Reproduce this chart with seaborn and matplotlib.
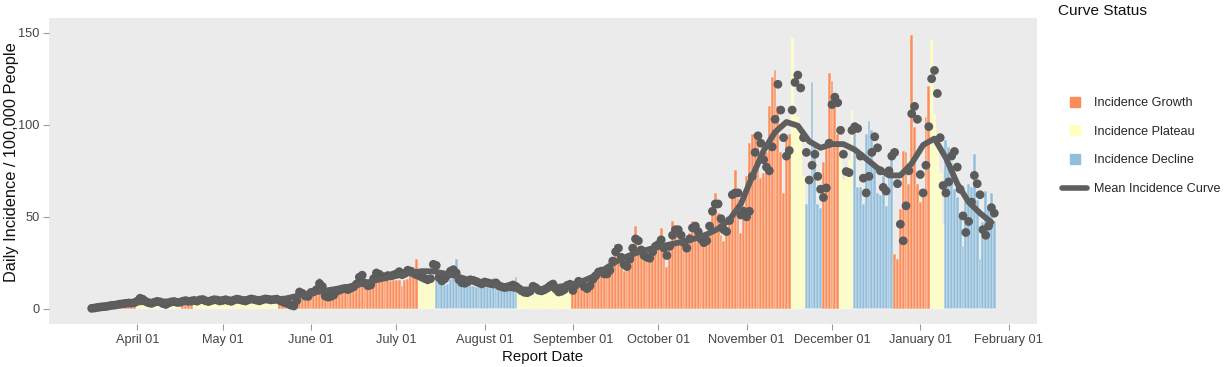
import numpy as np
import pandas as pd
import matplotlib
matplotlib.use("Agg")
import matplotlib.pyplot as plt
import matplotlib.dates as mdates
from matplotlib.lines import Line2D
import seaborn as sns

# ---------------- data ----------------
start_date = "2020-03-16"

inc_mar = [0.1, 0.2, 0.4, 0.4, 0.6, 0.5, 0.8, 0.9, 0.8, 1.1, 1.3, 1.2, 1.6, 1.7, 1.5, 2.0]
inc_apr = [2.3, 2.6, 3.1, 2.8, 2.4, 2.2, 2.6, 2.9, 2.7, 2.3, 2.1, 2.5, 2.8, 2.9, 2.6, 2.7,
           3.1, 3.4, 3.6, 3.3, 3.8, 4.1, 4.3, 4.0, 3.7, 3.9, 4.2, 4.4, 4.1, 3.9]
inc_may = [4.4, 4.6, 4.2, 3.9, 4.3, 4.6, 4.8, 4.5, 4.1, 4.0, 4.4, 4.7, 4.9, 4.6, 4.3, 4.2,
           4.6, 4.8, 5.0, 4.7, 4.8, 5.0, 5.2, 4.9, 4.6, 5.3, 5.8, 6.9, 7.4, 7.8, 7.6]
inc_jun = [7.0, 7.4, 7.8, 16.8, 8.5, 7.2, 6.9, 7.6, 8.8, 9.3, 9.8, 10.1, 10.6, 11.0, 11.3,
           11.7, 11.9, 12.4, 19.5, 12.6, 12.9, 13.4, 14.6, 15.0, 15.3, 15.4, 15.2, 15.5, 15.3, 15.6]
inc_jul = [15.5, 15.8, 12.6, 15.9, 16.2, 18.5, 22.8, 27.0, 17.8, 16.5, 15.9, 16.8, 15.4, 16.0,
           17.5, 17.2, 13.5, 13.0, 13.4, 16.0, 17.0, 27.0, 14.2, 15.0, 14.0, 12.5, 12.3, 12.4,
           12.1, 12.8, 11.9]
inc_aug = [11.8, 12.0, 11.6, 17.0, 11.2, 11.0, 10.8, 11.3, 10.9, 10.5, 10.2, 17.2, 9.6, 9.8,
           10.0, 9.4, 9.1, 9.5, 9.8, 10.2, 9.9, 10.0, 10.3, 9.7, 9.9, 10.4, 10.6, 10.2, 10.0, 9.8, 9.6]
inc_sep = [13, 14, 12, 11, 12.5, 13, 12, 18, 20, 21, 19, 18.5, 20, 21, 27, 35, 28, 22, 20.5,
           21, 30, 32, 45, 34, 29, 27, 26, 28, 31, 33]
inc_oct = [34, 44, 30, 23, 32, 47.5, 40, 38, 36, 33, 34, 41, 48, 43, 38, 35, 37, 40, 45, 55,
           63, 52, 40, 37, 42, 50, 63, 75.5, 60, 41, 56]
inc_nov = [72, 90, 95, 93, 90, 71, 74, 85, 110, 126, 130, 110, 85, 63, 92, 95,
           147, 108, 104, 97, 72, 57, 70, 123, 88, 57, 55, 80, 88, 128]
inc_dec = [124, 117, 95, 82, 70, 77, 81, 108, 101, 66, 66, 57, 95, 102, 97, 77, 63, 62, 72,
           56, 74, 87, 30, 27, 54, 86, 85, 68, 149, 99, 68]
inc_jan = [58, 65, 104, 121, 146, 106, 88, 74, 46, 92, 88, 79, 65, 61, 52, 34, 59, 68, 66,
           84, 59, 27, 47, 64, 56, 63, 48]

dot_mar = [0.3, 0.5, 0.8, 1.0, 1.2, 1.3, 1.6, 1.9, 2.0, 2.3, 2.6, 2.8, 3.0, 3.2, 3.1, 3.4]
dot_apr = [4.2, 5.8, 5.2, 4.0, 3.3, 3.0, 3.6, 4.1, 3.8, 2.9, 2.4, 3.2, 3.8, 4.0, 3.5, 3.6,
           4.2, 4.5, 4.1, 4.3, 4.6, 4.2, 4.9, 5.1, 4.4, 4.0, 4.5, 5.0, 4.8, 4.3]
dot_may = [4.6, 5.0, 4.5, 4.1, 4.8, 5.3, 5.0, 4.6, 4.3, 4.9, 5.4, 5.1, 4.7, 4.4, 5.0, 5.4,
           5.2, 4.9, 5.1, 5.3, 4.6, 3.9, 3.3, 2.8, 2.0, 1.6, 4.5, 9.2, 8.4, 7.0, 6.8]
dot_jun = [8.9, 9.3, 10.5, 13.8, 12.2, 7.0, 6.4, 6.8, 7.5, 9.6, 10.2, 10.8, 11.1, 10.5, 11.3,
           12.0, 13.5, 17.2, 18.3, 14.0, 12.6, 13.0, 16.4, 19.5, 18.8, 17.6, 17.4, 18.1, 17.9, 18.4]
dot_jul = [19.0, 20.2, 18.6, 19.3, 21.0, 20.5, 19.4, 18.6, 18.0, 17.2, 16.5, 15.8, 16.4, 24.2,
           23.6, 17.0, 15.2, 16.4, 18.4, 20.5, 21.3, 19.6, 15.8, 14.2, 13.9, 14.6, 15.8, 15.5,
           14.9, 14.2, 13.6]
dot_aug = [14.6, 14.2, 13.8, 13.5, 14.1, 12.6, 12.0, 11.6, 11.9, 12.4, 13.0, 12.2, 11.0, 9.8,
           9.0, 8.8, 9.6, 12.3, 11.5, 10.1, 9.8, 10.4, 11.3, 12.6, 13.5, 10.8, 9.2, 9.6, 10.5,
           12.8, 13.4]
dot_sep = [10, 13, 15, 14, 12, 11, 12.5, 16, 18, 20, 20.5, 19, 19, 21, 26, 31, 33, 28, 24, 23,
           27, 33, 38, 37, 32, 29, 28, 27.5, 31, 34]
dot_oct = [35, 37.5, 33, 29, 34, 40, 43, 43, 40, 36, 33, 38, 44, 45, 42, 38, 36, 37, 45, 53,
           57, 57, 49, 43, 42, 48, 62, 63, 63, 51, 53]
dot_nov = [50, 53, 72, 85, 94, 90, 81, 77, 75, 88, 103, 122, 108, 93, 83, 86, 108, 123, 127,
           120, 93, 85, 70, 78, 84, 72, 65, 60.5, 65.7, 90]
dot_dec = [111, 115, 112, 97, 84, 74.6, 74, 97, 99, 98, 83, 71, 63, 72, 85, 93.5, 87.5, 75,
           66, 64, 75, 83, 85, 68, 46, 37, 56, 75, 106, 110, 103]
dot_jan = [73, 63, 78, 99, 125, 129.5, 117, 93, 67, 63, 69, 83, 85.5, 77, 65, 50.5, 41.5,
           47.5, 58, 72.5, 68, 62, 43, 40, 45, 55, 52]

# curve status segments (start date of each run)
seg_starts = ["2020-03-16", "2020-04-01", "2020-04-17", "2020-04-21", "2020-05-21",
              "2020-07-09", "2020-07-15", "2020-08-13", "2020-09-01", "2020-11-17",
              "2020-11-22", "2020-11-28", "2020-12-04", "2020-12-09", "2020-12-23",
              "2021-01-05", "2021-01-10"]
seg_status = ["Incidence Growth", "Incidence Plateau", "Incidence Growth", "Incidence Plateau",
              "Incidence Growth", "Incidence Plateau", "Incidence Decline", "Incidence Plateau",
              "Incidence Growth", "Incidence Plateau", "Incidence Decline", "Incidence Growth",
              "Incidence Plateau", "Incidence Decline", "Incidence Growth", "Incidence Plateau",
              "Incidence Decline"]

# mean incidence curve, read every 4 days from 2020-03-16
curve_vals = [0.3, 1.0, 1.8, 2.8, 3.5, 3.9, 4.0, 4.1, 4.3, 4.5, 4.7, 4.9, 5.0, 5.2, 5.3, 5.3,
              5.2, 5.6, 7.0, 8.3, 9.4, 10.4, 11.4, 12.6, 14.0, 15.6, 17.0, 18.3, 19.6, 20.5,
              20.4, 19.2, 17.8, 16.0, 14.7, 13.5, 12.3, 11.0, 10.5, 10.6, 11.2, 12.0, 13.0,
              14.8, 17.5, 21.5, 25.5, 28.5, 30.8, 32.5, 34.0, 35.3, 36.6, 38.3, 40.5, 43.5,
              48.5, 57.0, 72.0, 86.0, 96.0, 101.5, 99.5, 91.0, 87.5, 89.5, 89.5, 86.5, 81.5,
              76.5, 72.5, 72.5, 79.0, 89.0, 92.5, 82.0, 68.0, 58.0, 52.0, 47.0]

status_order = ["Incidence Growth", "Incidence Plateau", "Incidence Decline"]
palette = {"Incidence Growth": "#FC8D59", "Incidence Plateau": "#FFFFBF",
           "Incidence Decline": "#91BFDB"}

# ---------------- build tables ----------------
inc = (inc_mar + inc_apr + inc_may + inc_jun + inc_jul + inc_aug + inc_sep + inc_oct
       + inc_nov + inc_dec + inc_jan)
dots = (dot_mar + dot_apr + dot_may + dot_jun + dot_jul + dot_aug + dot_sep + dot_oct
        + dot_nov + dot_dec + dot_jan)
dates = pd.date_range(start_date, periods=len(inc), freq="D")
seg_dt = pd.to_datetime(seg_starts)
idx = np.searchsorted(seg_dt.values, dates.values, side="right") - 1
df = pd.DataFrame({
    "x": mdates.date2num(dates),
    "inc": inc,
    "dot": dots[:len(inc)],
    "status": [seg_status[i] for i in idx],
})
curve_dates = pd.date_range(start_date, periods=len(curve_vals), freq="4D")
cdf = pd.DataFrame({"x": mdates.date2num(curve_dates), "y": curve_vals})

# ---------------- plot ----------------
sns.set_theme(style="white")
plt.rcParams["font.family"] = ["Liberation Sans", "DejaVu Sans"]

W, H = 1228, 367
fig = plt.figure(figsize=(W / 100, H / 100), dpi=100)
ax = fig.add_axes([49 / W, (H - 324) / H, (1037 - 49) / W, (324 - 18) / H])
ax.set_facecolor("#EBEBEB")

sns.histplot(data=df, x="x", weights="inc", hue="status", hue_order=status_order,
             palette=palette, discrete=True, shrink=1.0, alpha=1.0, element="bars",
             edgecolor="#F4F4F4", linewidth=0.35, legend=False, ax=ax)
sns.scatterplot(data=df, x="x", y="dot", color="#5B5B5B", s=40, edgecolor="none",
                legend=False, ax=ax, zorder=3)
sns.lineplot(data=cdf, x="x", y="y", color="#5E5E5E", linewidth=4.2, ax=ax, zorder=4,
             solid_capstyle="round", solid_joinstyle="round")

ax.set_xlim(mdates.date2num(pd.Timestamp("2020-03-01")),
            mdates.date2num(pd.Timestamp("2021-02-11")))
ax.set_ylim(-8.2, 158)
ticks = pd.date_range("2020-04-01", "2021-02-01", freq="MS")
ax.set_xticks(mdates.date2num(ticks))
ax.set_xticklabels([t.strftime("%B %d") for t in ticks])
ax.set_yticks([0, 50, 100, 150])
for s in ax.spines.values():
    s.set_visible(False)
ax.tick_params(axis="both", bottom=True, left=True, length=4, width=0.8,
               color="#9A9A9A", labelcolor="#444444", labelsize=9.2, pad=3)
ax.set_xlabel("Report Date", fontsize=10.8, color="#111111", labelpad=3)
ax.set_ylabel("Daily Incidence / 100,000 People", fontsize=11.8, color="#111111")
ax.yaxis.set_label_coords(-30 / 988, 0.53)
ax.grid(False)

handles = [Line2D([], [], marker="s", linestyle="none", markersize=7.5,
                  markerfacecolor=palette[s], markeredgecolor=palette[s]) for s in status_order]
handles.append(Line2D([], [], color="#5E5E5E", linewidth=4))
labels = status_order + ["Mean Incidence Curve"]
fig.legend(handles, labels, loc="upper left", bbox_to_anchor=(1062 / W, 1 - 97 / H),
           frameon=False, fontsize=9.1, handlelength=2.0, handletextpad=0.5,
           labelspacing=1.32, borderaxespad=0, borderpad=0)
fig.text(1058 / W, 1 - 11 / H, "Curve Status", fontsize=11.1, color="#111111", va="center")

fig.savefig("out.png", dpi=100)
